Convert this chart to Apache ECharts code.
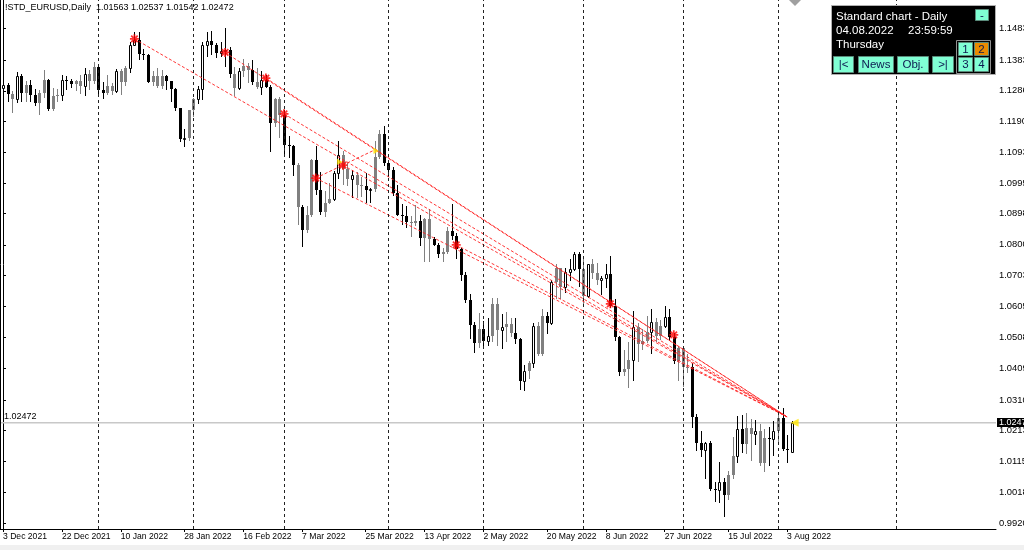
<!DOCTYPE html>
<html><head><meta charset="utf-8">
<script src="https://cdn.jsdelivr.net/npm/echarts@6/dist/echarts.min.js"></script>
<style>html,body{margin:0;padding:0;background:#fff}#c{width:1024px;height:550px}</style>
</head><body><div id="c"></div>
<script>
const dates = [
'2021-12-03','2021-12-06','2021-12-07','2021-12-08','2021-12-09','2021-12-10','2021-12-13','2021-12-14','2021-12-15','2021-12-16','2021-12-17','2021-12-20','2021-12-21','2021-12-22','2021-12-23','2021-12-24','2021-12-27','2021-12-28','2021-12-29','2021-12-30','2021-12-31',
'2022-01-03','2022-01-04','2022-01-05','2022-01-06','2022-01-07','2022-01-10','2022-01-11','2022-01-12','2022-01-13','2022-01-14','2022-01-17','2022-01-18','2022-01-19','2022-01-20','2022-01-21','2022-01-24','2022-01-25','2022-01-26','2022-01-27','2022-01-28','2022-01-31',
'2022-02-01','2022-02-02','2022-02-03','2022-02-04','2022-02-07','2022-02-08','2022-02-09','2022-02-10','2022-02-11','2022-02-14','2022-02-15','2022-02-16','2022-02-17','2022-02-18','2022-02-21','2022-02-22','2022-02-23','2022-02-24','2022-02-25','2022-02-28',
'2022-03-01','2022-03-02','2022-03-03','2022-03-04','2022-03-07','2022-03-08','2022-03-09','2022-03-10','2022-03-11','2022-03-14','2022-03-15','2022-03-16','2022-03-17','2022-03-18','2022-03-21','2022-03-22','2022-03-23','2022-03-24','2022-03-25','2022-03-28','2022-03-29','2022-03-30','2022-03-31',
'2022-04-01','2022-04-04','2022-04-05','2022-04-06','2022-04-07','2022-04-08','2022-04-11','2022-04-12','2022-04-13','2022-04-14','2022-04-15','2022-04-18','2022-04-19','2022-04-20','2022-04-21','2022-04-22','2022-04-25','2022-04-26','2022-04-27','2022-04-28','2022-04-29',
'2022-05-02','2022-05-03','2022-05-04','2022-05-05','2022-05-06','2022-05-09','2022-05-10','2022-05-11','2022-05-12','2022-05-13','2022-05-16','2022-05-17','2022-05-18','2022-05-19','2022-05-20','2022-05-23','2022-05-24','2022-05-25','2022-05-26','2022-05-27','2022-05-30','2022-05-31',
'2022-06-01','2022-06-02','2022-06-03','2022-06-06','2022-06-07','2022-06-08','2022-06-09','2022-06-10','2022-06-13','2022-06-14','2022-06-15','2022-06-16','2022-06-17','2022-06-20','2022-06-21','2022-06-22','2022-06-23','2022-06-24','2022-06-27','2022-06-28','2022-06-29','2022-06-30',
'2022-07-01','2022-07-04','2022-07-05','2022-07-06','2022-07-07','2022-07-08','2022-07-11','2022-07-12','2022-07-13','2022-07-14','2022-07-15','2022-07-18','2022-07-19','2022-07-20','2022-07-21','2022-07-22','2022-07-25','2022-07-26','2022-07-27','2022-07-28','2022-07-29',
'2022-08-01','2022-08-02','2022-08-03','2022-08-04'];

const open = [
1.1304,1.1315,1.1286,1.1269,1.1343,1.1290,1.1315,1.1283,1.1258,1.1290,1.1330,1.1238,1.1280,1.1284,1.1330,1.1327,1.1318,1.1327,1.1311,1.1350,1.1327,
1.1370,1.1298,1.1289,1.1311,1.1296,1.1359,1.1325,1.1367,1.1441,1.1455,1.1412,1.1409,1.1325,1.1343,1.1312,1.1344,1.1326,1.1300,1.1241,1.1144,1.1146,
1.1235,1.1270,1.1303,1.1440,1.1453,1.1440,1.1415,1.1421,1.1424,1.1350,1.1305,1.1358,1.1374,1.1361,1.1323,1.1309,1.1330,1.1309,1.1193,1.1270,
1.1220,1.1125,1.1121,1.1063,1.0930,1.0856,1.0902,1.1076,1.0984,1.0912,1.0942,1.0954,1.1035,1.1093,1.1050,1.1017,1.1030,1.0999,1.0996,1.0984,1.0986,1.1088,1.1158,
1.1067,1.1045,1.0972,1.0904,1.0900,1.0880,1.0877,1.0886,1.0830,1.0890,1.0827,1.0810,1.0780,1.0788,1.0852,1.0837,1.0796,1.0715,1.0636,1.0557,1.0498,
1.0544,1.0506,1.0522,1.0621,1.0540,1.0550,1.0560,1.0530,1.0512,1.0380,1.0411,1.0436,1.0553,1.0465,1.0585,1.0563,1.0691,1.0735,1.0677,1.0724,1.0733,1.0780,
1.0733,1.0648,1.0748,1.0719,1.0698,1.0704,1.0717,1.0616,1.0518,1.0408,1.0417,1.0446,1.0550,1.0496,1.0506,1.0533,1.0567,1.0522,1.0554,1.0582,1.0518,1.0442,
1.0484,1.0425,1.0425,1.0265,1.0182,1.0162,1.0184,1.0039,1.0036,1.0061,1.0019,1.0083,1.0142,1.0227,1.0180,1.0230,1.0212,1.0221,1.0120,1.0199,1.0197,
1.0220,1.0261,1.0165,1.01563];
const high = [
1.1334,1.1320,1.1294,1.1355,1.1348,1.1327,1.1329,1.1303,1.1297,1.1360,1.1333,1.1305,1.1302,1.1346,1.1343,1.1334,1.1331,1.1345,1.1369,1.1360,1.1386,
1.1376,1.1322,1.1346,1.1320,1.1364,1.1365,1.1374,1.1449,1.1482,1.1483,1.1427,1.1413,1.1357,1.1369,1.1363,1.1346,1.1328,1.1305,1.1243,1.1175,1.1236,
1.1272,1.1311,1.1450,1.1483,1.1485,1.1447,1.1449,1.1495,1.1434,1.1370,1.1368,1.1395,1.1382,1.1394,1.1367,1.1359,1.1346,1.1314,1.1274,1.1275,
1.1234,1.1153,1.1125,1.1068,1.0935,1.0932,1.1079,1.1121,1.1040,1.0980,1.1006,1.1043,1.1137,1.1107,1.1068,1.1046,1.1040,1.1025,1.1036,1.0990,1.1138,1.1171,1.1185,
1.1076,1.1054,1.0997,1.0938,1.0933,1.0899,1.0934,1.0903,1.0895,1.0924,1.0835,1.0815,1.0799,1.0866,1.0937,1.0848,1.0799,1.0722,1.0655,1.0566,1.0594,
1.0569,1.0578,1.0641,1.0642,1.0592,1.0598,1.0577,1.0578,1.0515,1.0429,1.0441,1.0564,1.0566,1.0607,1.0596,1.0697,1.0748,1.0737,1.0735,1.0765,1.0787,1.0786,
1.0764,1.0750,1.0764,1.0752,1.0710,1.0749,1.0774,1.0637,1.0521,1.0478,1.0504,1.0601,1.0561,1.0545,1.0583,1.0606,1.0578,1.0572,1.0615,1.0606,1.0531,1.0487,
1.0486,1.0463,1.0436,1.0276,1.0220,1.0187,1.0191,1.0061,1.0122,1.0073,1.0096,1.0202,1.0269,1.0273,1.0278,1.0258,1.0256,1.0243,1.0227,1.0234,1.0254,
1.0274,1.0294,1.0210,1.02537];
const low = [
1.1279,1.1264,1.1228,1.1260,1.1263,1.1265,1.1265,1.1252,1.1222,1.1276,1.1235,1.1234,1.1262,1.1268,1.1302,1.1309,1.1297,1.1290,1.1284,1.1300,1.1320,
1.1280,1.1272,1.1286,1.1285,1.1291,1.1286,1.1315,1.1354,1.1440,1.1397,1.1395,1.1323,1.1314,1.1307,1.1305,1.1301,1.1262,1.1235,1.1136,1.1121,1.1140,
1.1217,1.1256,1.1270,1.1405,1.1411,1.1401,1.1407,1.1374,1.1340,1.1281,1.1301,1.1343,1.1322,1.1318,1.1306,1.1287,1.1307,1.1106,1.1185,1.1150,
1.1090,1.1087,1.1030,1.0876,1.0806,1.0851,1.0900,1.0970,1.0907,1.0900,1.0940,1.0950,1.1019,1.1003,1.0997,1.0961,1.0961,1.0962,1.0944,1.0945,1.0980,1.1084,1.1061,
1.1028,1.0968,1.0903,1.0875,1.0866,1.0836,1.0873,1.0810,1.0757,1.0758,1.0808,1.0770,1.0759,1.0782,1.0828,1.0769,1.0697,1.0628,1.0514,1.0471,1.0488,
1.0490,1.0492,1.0505,1.0493,1.0483,1.0507,1.0522,1.0500,1.0354,1.0350,1.0389,1.0422,1.0461,1.0460,1.0532,1.0560,1.0641,1.0642,1.0661,1.0699,1.0730,1.0680,
1.0627,1.0646,1.0705,1.0686,1.0653,1.0677,1.0613,1.0508,1.0398,1.0397,1.0359,1.0381,1.0443,1.0480,1.0502,1.0469,1.0507,1.0512,1.0550,1.0509,1.0437,1.0384,
1.0365,1.0409,1.0235,1.0162,1.0144,1.0072,1.0034,0.9999,0.9998,0.9952,1.0006,1.0072,1.0123,1.0155,1.0153,1.0130,1.0180,1.0113,1.0096,1.0114,1.0146,
1.0190,1.0160,1.0123,1.01542];
const close = [
1.1315,1.1286,1.1269,1.1343,1.1290,1.1315,1.1283,1.1258,1.1290,1.1330,1.1238,1.1280,1.1284,1.1330,1.1327,1.1318,1.1327,1.1311,1.1350,1.1327,1.1370,
1.1298,1.1289,1.1311,1.1296,1.1359,1.1325,1.1367,1.1441,1.1455,1.1412,1.1409,1.1325,1.1343,1.1312,1.1344,1.1326,1.1300,1.1241,1.1144,1.1146,1.1235,
1.1270,1.1303,1.1440,1.1453,1.1440,1.1415,1.1421,1.1424,1.1350,1.1305,1.1358,1.1374,1.1361,1.1323,1.1309,1.1330,1.1309,1.1193,1.1270,1.1220,
1.1125,1.1121,1.1063,1.0930,1.0856,1.0902,1.1076,1.0984,1.0912,1.0942,1.0954,1.1035,1.1093,1.1050,1.1017,1.1030,1.0999,1.0996,1.0984,1.0986,1.1088,1.1158,1.1067,
1.1045,1.0972,1.0904,1.0900,1.0880,1.0877,1.0886,1.0830,1.0890,1.0827,1.0810,1.0780,1.0788,1.0852,1.0837,1.0796,1.0715,1.0636,1.0557,1.0498,1.0544,
1.0506,1.0522,1.0621,1.0540,1.0550,1.0560,1.0530,1.0512,1.0380,1.0411,1.0436,1.0553,1.0465,1.0585,1.0563,1.0691,1.0735,1.0677,1.0724,1.0733,1.0780,1.0733,
1.0648,1.0748,1.0719,1.0698,1.0704,1.0717,1.0616,1.0518,1.0408,1.0417,1.0446,1.0550,1.0496,1.0506,1.0533,1.0567,1.0522,1.0554,1.0582,1.0518,1.0442,1.0484,
1.0425,1.0425,1.0265,1.0182,1.0162,1.0184,1.0039,1.0036,1.0061,1.0019,1.0083,1.0142,1.0227,1.0180,1.0230,1.0212,1.0221,1.0120,1.0199,1.0197,1.0220,
1.0261,1.0165,1.0160,1.02472];

// bars drawn in grey in the reference
const grayBars = [2,5,8,9,11,12,16,17,19,20,23,24,26,27,33,34,35,41,42,51,53,54,56,60,61,65,67,68,71,72,75,76,78,79,82,83,90,91,93,94,97,98,105,108,109,111,112,116,118,119,122,123,128,130,131,137,138,140,141,142,144,145,149,150,151,160,161,164,165,167,168,171];

const xTickIdx = [0,13,26,40,53,66,80,93,106,120,133,146,160,173];
const yTicks = [1.1483,1.1383,1.1286,1.1190,1.1093,1.0995,1.0898,1.0800,1.0703,1.0605,1.0508,1.0409,1.0310,1.0213,1.0115,1.0018,0.9920];
const monthSeparators = [21,42,62,85,106,128,150,171,197];

const stars = [[29,1.1460],[49,1.1417],[58,1.1336],[62,1.1223],[69,1.1020],[75,1.1061],[100,1.0809],[134,1.0623],[148,1.0525]];
const yellowMarks = [[74,1.1074],[82,1.1109]];
const trendLines = [
  [29,1.1460,173,1.0266],[49,1.1417,173,1.0266],[58,1.1336,173,1.0266],[62,1.1223,173,1.0266],
  [69,1.1020,173,1.0266],[75,1.1061,173,1.0266],[100,1.0809,173,1.0266],[69,1.1020,82,1.1109]
];

const MON = ['Jan','Feb','Mar','Apr','May','Jun','Jul','Aug','Sep','Oct','Nov','Dec'];
function fmtDate(s){ const p=s.split('-'); return (+p[2])+' '+MON[+p[1]-1]+' '+p[0]; }

const last = dates.length-1;
const candleData = dates.map((d,i)=>[i, open[i], close[i], low[i], high[i],
  grayBars.indexOf(i)>=0 ? 2 : (close[i] >= open[i] ? 0 : 1)]);

// the MT4 price scale prints its labels slightly above the price they name
const LABEL_LIFT = 0.00095;
const yTickPos = yTicks.map(v => v + LABEL_LIFT);
function yTickText(v){
  let best = yTicks[0];
  yTicks.forEach(t => { if (Math.abs(t + LABEL_LIFT - v) < Math.abs(best + LABEL_LIFT - v)) best = t; });
  return best.toFixed(5);
}

function renderCandle(params, api){
  const i = api.value(0);
  const pO = api.coord([i, api.value(1)]);
  const pC = api.coord([i, api.value(2)]);
  const pL = api.coord([i, api.value(3)]);
  const pH = api.coord([i, api.value(4)]);
  const st = api.value(5);
  const cx = Math.round(pO[0]);
  const col = st === 2 ? '#808080' : '#000000';
  const yTop = Math.round(Math.min(pO[1], pC[1]));
  const yBot = Math.round(Math.max(pO[1], pC[1]));
  const kids = [{type:'line', shape:{x1:cx+0.5, y1:Math.round(pH[1]), x2:cx+0.5, y2:Math.round(pL[1])+1}, style:{stroke:col, lineWidth:1}}];
  if (st === 0) {
    kids.push({type:'rect', shape:{x:cx-0.5, y:yTop+0.5, width:2, height:Math.max(yBot-yTop,1)}, style:{fill:'#fff', stroke:'#000', lineWidth:1}});
  } else {
    kids.push({type:'rect', shape:{x:cx-1, y:yTop, width:3, height:Math.max(yBot-yTop,1)}, style:{fill:col}});
  }
  return {type:'group', children:kids};
}

const FONT = 'Liberation Sans, Arial, sans-serif';
const starPath = 'path://M4,0H6V2.6L7.9,0.7L9.3,2.1L7.4,4H10V6H7.4L9.3,7.9L7.9,9.3L6,7.4V10H4V7.4L2.1,9.3L0.7,7.9L2.6,6H0V4H2.6L0.7,2.1L2.1,0.7L4,2.6Z';

const series = [
  { type:'line', data:[], z:1, silent:true,
    markLine:{ silent:true, symbol:'none', animation:false,
      lineStyle:{color:'#222', type:[3,3], width:1}, label:{show:false},
      data: monthSeparators.map(v=>({xAxis:v})) } },
  { type:'line', data:[[-0.662, close[last]], [219.1, close[last]]], symbol:'none', silent:true, z:1,
    lineStyle:{color:'#c8c8c8', width:1.5} },
  { type:'custom', renderItem:renderCandle, data:candleData, z:2, clip:true,
    encode:{x:0, y:[1,2,3,4]} }
];
trendLines.forEach(t=>series.push({ type:'line', data:[[t[0],t[1]],[t[2],t[3]]], symbol:'none', silent:true, z:3,
  lineStyle:{color:'#ff2020', width:1, type:[3,2], opacity:0.9} }));
series.push({ type:'scatter', data:stars, symbol:starPath, symbolSize:9, itemStyle:{color:'#ff0000'}, z:5, silent:true });
series.push({ type:'scatter', data:yellowMarks, symbol:'triangle', symbolSize:6, symbolRotate:30, itemStyle:{color:'#ffe000'}, z:6, silent:true });
series.push({ type:'scatter', data:[[last, close[last]]], symbol:'triangle', symbolSize:[8,8], symbolRotate:90, symbolOffset:[3,0], itemStyle:{color:'#ffe600'}, z:6, silent:true });

const chart = echarts.init(document.getElementById('c'), null, {renderer:'canvas'});
const aqua = '#80ffd4';
function btn(x,y,w,h,txt,fill){
  return [{type:'rect', shape:{x:x+0.5,y:y+0.5,width:w,height:h}, style:{fill:fill||aqua, stroke:'#5a8a7a', lineWidth:1}, z:100},
          {type:'text', x:x+w/2+0.5, y:y+h/2+1, style:{text:txt, fill:'#0c1a50', font:'11.5px '+FONT, align:'center', verticalAlign:'middle'}, z:101}];
}
const panel = [
  {type:'rect', shape:{x:831.5,y:5.5,width:164,height:69}, style:{fill:'#000', stroke:'#b0b0b0', lineWidth:1}, z:99},
  {type:'text', x:836, y:11, style:{text:'Standard chart - Daily', fill:'#fff', font:'11.5px '+FONT}, z:101},
  {type:'text', x:836, y:25, style:{text:'04.08.2022', fill:'#fff', font:'11.5px '+FONT}, z:101},
  {type:'text', x:908, y:25, style:{text:'23:59:59', fill:'#fff', font:'11.5px '+FONT}, z:101},
  {type:'text', x:836, y:39, style:{text:'Thursday', fill:'#fff', font:'11.5px '+FONT}, z:101},
  {type:'rect', shape:{x:956.5,y:40.5,width:34,height:33}, style:{fill:'#000', stroke:'#909090', lineWidth:1}, z:99}
].concat(btn(975,9,13,11,'-'), btn(833,56,20,16,'|<'), btn(858,56,35,16,'News'), btn(897,56,31,16,'Obj.'), btn(932,56,21,16,'>|'),
  btn(958,42,14,13,'1'), btn(974,42,14,13,'2','#e98b00'), btn(958,57,14,14,'3'), btn(974,57,14,14,'4'));

const option = {
  animation:false,
  backgroundColor:'#fff',
  grid:{left:0, top:0, width:996, height:529, containLabel:false, outerBoundsMode:'none'},
  xAxis:{ type:'value', min:-0.662, max:219.1, position:'bottom',
    axisLine:{show:true, lineStyle:{color:'#000', width:1}},
    axisTick:{show:true, customValues:xTickIdx, length:3, lineStyle:{color:'#000'}},
    axisLabel:{show:true, customValues:xTickIdx, formatter:v=>fmtDate(dates[Math.round(v)]), align:'left', margin:3,
      color:'#000', fontSize:8.6, fontFamily:FONT},
    splitLine:{show:false} },
  yAxis:{ type:'value', position:'right', min:0.99119, max:1.15825,
    axisLine:{show:true, lineStyle:{color:'#000', width:1}},
    axisTick:{show:true, customValues:yTickPos, length:3, lineStyle:{color:'#000'}},
    axisLabel:{show:true, customValues:yTickPos, formatter:yTickText, margin:3, color:'#000', fontSize:9.4, fontFamily:FONT},
    splitLine:{show:false} },
  graphic: [
    {type:'rect', shape:{x:0, y:545, width:1024, height:5}, style:{fill:'#f0f0f0'}, z:0},
    {type:'line', shape:{x1:0.5,y1:0,x2:0.5,y2:529}, style:{stroke:'#000', lineWidth:1}, z:50},
    {type:'text', x:5, y:3, style:{text:'!STD_EURUSD,Daily', fill:'#000', font:'9px '+FONT}, z:50},
    {type:'text', x:96, y:3, style:{text:[open[last],high[last],low[last],close[last]].map(v=>v.toFixed(5)).join(' '), fill:'#000', font:'9px '+FONT}, z:50},
    {type:'polygon', shape:{points:[[789,0],[801,0],[795,6]]}, style:{fill:'#a0a0a0'}, z:50}
  ].concat(panel),
  series
};
chart.setOption(option);
const py = Math.round(chart.convertToPixel({yAxisIndex:0}, close[last]));
chart.setOption({graphic: option.graphic.concat([
  {type:'text', x:4, y:py-2, style:{text:close[last].toFixed(5), fill:'#000', font:'9px '+FONT, verticalAlign:'bottom'}, z:61},
  {type:'rect', shape:{x:997, y:py-5, width:30, height:9}, style:{fill:'#000'}, z:60},
  {type:'text', x:999, y:py-0.5, style:{text:close[last].toFixed(5), fill:'#fff', font:'9px '+FONT, verticalAlign:'middle'}, z:61}
])});
</script></body></html>
